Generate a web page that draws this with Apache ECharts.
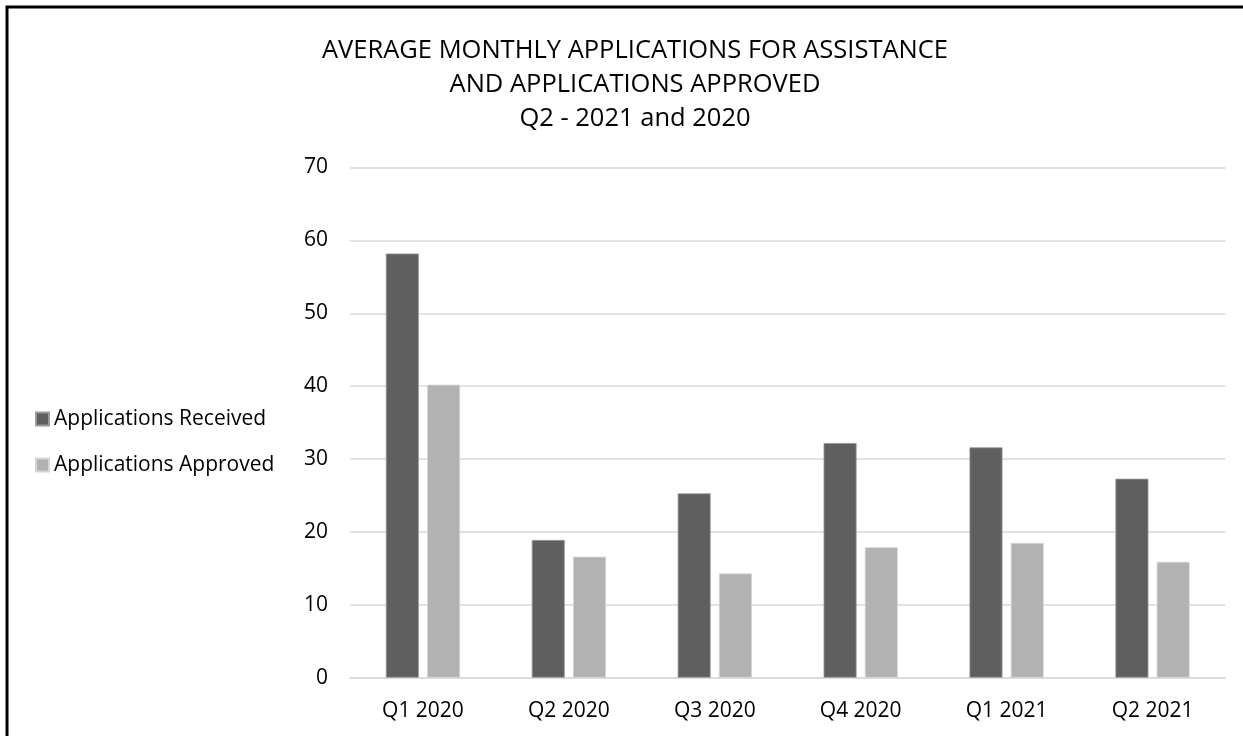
<!DOCTYPE html>
<html>
<head>
<meta charset="utf-8">
<script src="https://cdn.jsdelivr.net/npm/echarts@6/dist/echarts.min.js"></script>
<style>
html,body{margin:0;padding:0;background:#fff;}
#chart{width:1243px;height:736px;}
</style>
</head>
<body>
<div id="chart"></div>
<script>
const titleLines = ['AVERAGE MONTHLY APPLICATIONS FOR ASSISTANCE', 'AND APPLICATIONS APPROVED', 'Q2 - 2021 and 2020'];
const categories = ['Q1 2020', 'Q2 2020', 'Q3 2020', 'Q4 2020', 'Q1 2021', 'Q2 2021'];
const seriesNames = ['Applications Received', 'Applications Approved'];
const received = [58.2, 18.9, 25.3, 32.2, 31.6, 27.3];
const approved = [40.2, 16.6, 14.3, 17.9, 18.5, 15.9];
const yMin = 0, yMax = 70, yInterval = 10;

const FONT = 'Open Sans';
const chart = echarts.init(document.getElementById('chart'), null, {renderer: 'canvas'});
chart.setOption({
  backgroundColor: '#fff',
  animation: false,
  title: {
    text: titleLines.join('\n'),
    left: 630,
    textAlign: 'center',
    top: 29,
    textStyle: {fontFamily: FONT, fontSize: 25.5, fontWeight: 'normal', color: '#000', lineHeight: 34}
  },
  legend: {
    orient: 'vertical',
    left: 30,
    top: 401,
    itemWidth: 13,
    itemHeight: 13,
    itemGap: 20,
    icon: 'rect',
    data: seriesNames,
    textStyle: {fontFamily: FONT, fontSize: 21, color: '#000', lineHeight: 26, padding: [0, 0, 0, 0]}
  },
  grid: {left: 350, right: 17.5, top: 167.5, bottom: 58.3, containLabel: false},
  xAxis: {
    type: 'category',
    data: categories,
    axisLine: {show: true, lineStyle: {color: '#d9d9d9', width: 1.5}},
    axisTick: {show: false},
    axisLabel: {fontFamily: FONT, fontSize: 21, color: '#000', margin: 23}
  },
  yAxis: {
    type: 'value',
    min: yMin, max: yMax, interval: yInterval,
    axisLine: {show: false},
    axisTick: {show: false},
    splitLine: {lineStyle: {color: '#d9d9d9', width: 1.5}},
    axisLabel: {fontFamily: FONT, fontSize: 21, color: '#000', margin: 22}
  },
  series: [
    {name: seriesNames[0], type: 'bar', data: received, barWidth: 33, barGap: '25%',
     itemStyle: {color: '#5f5f5f', borderColor: '#9a9a9a', borderWidth: 0.8}},
    {name: seriesNames[1], type: 'bar', data: approved, barWidth: 33,
     itemStyle: {color: '#b2b2b2', borderColor: '#d6d6d6', borderWidth: 0.8}}
  ],
  graphic: [
    {type: 'rect', shape: {x: 7, y: 7, width: 1300, height: 800}, style: {fill: 'none', stroke: '#000', lineWidth: 3}, silent: true}
  ]
});
</script>
</body>
</html>
